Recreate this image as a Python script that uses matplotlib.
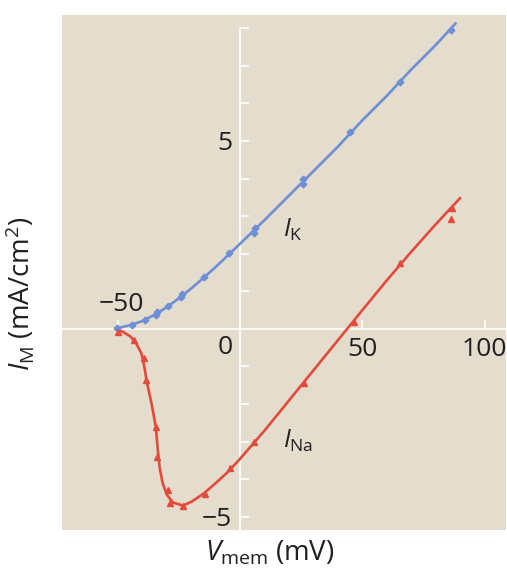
import numpy as np
import matplotlib
matplotlib.use("Agg")
import matplotlib.pyplot as plt

plt.rcParams['font.family'] = ['Open Sans', 'DejaVu Sans']
plt.rcParams['mathtext.fontset'] = 'custom'
plt.rcParams['mathtext.rm'] = 'Open Sans'
plt.rcParams['mathtext.it'] = 'Open Sans:italic'

# measured points (mV, mA/cm2)
v_k = [-50.5, -44.4, -38.9, -34.4, -34.0, -29.4, -24.3, -24.0, -14.8, -4.5, 5.7, 5.9, 25.5, 25.7, 45.1, 65.6, 86.1]
i_k = [0.03, 0.11, 0.24, 0.36, 0.44, 0.61, 0.84, 0.93, 1.39, 2.01, 2.56, 2.68, 3.86, 3.98, 5.25, 6.58, 7.95]

v_na = [-49.9, -43.7, -39.6, -38.5, -34.4, -33.9, -29.8, -28.7, -23.6, -14.3, -4.1, 5.7, 25.9, 46.4, 65.6, 86.8, 86.1]
i_na = [-0.07, -0.29, -0.78, -1.36, -2.60, -3.40, -4.28, -4.64, -4.71, -4.39, -3.71, -3.00, -1.43, 0.19, 1.75, 3.21, 2.92]

# fitted curves
fit_v_k = [-51.5, -45, -40, -35, -30, -25, -20, -15, -10, -5, 0, 10, 20, 30, 40, 50, 60, 70, 80, 88.5]
fit_i_k = [0.0, 0.10, 0.21, 0.38, 0.58, 0.82, 1.08, 1.36, 1.65, 1.96, 2.27, 2.90, 3.55, 4.20, 4.85, 5.55, 6.20, 6.90, 7.55, 8.15]

fit_v_na = [-51.2, -48, -45, -42.5, -40.5, -39.3, -38.3, -36.3, -34.6, -33.8, -33.0, -31.8, -30, -27.5,
            -23.5, -20, -15, -10, -5, 0, 10, 20, 30, 40, 50, 60, 70, 80, 90.3]
fit_i_na = [0.0, -0.08, -0.20, -0.40, -0.65, -1.0, -1.4, -2.0, -2.6, -3.2, -3.7, -4.1, -4.42, -4.62,
            -4.70, -4.60, -4.38, -4.10, -3.80, -3.45, -2.70, -1.90, -1.10, -0.30, 0.50, 1.29, 2.05, 2.78, 3.50]

x_ticks = [-50, 50, 100]
x_ticklabels = ['', '50', '100']
y_ticks = [-5, -4, -3, -2, -1, 1, 2, 3, 4, 5, 6, 7, 8]
y_ticklabels = ['\u22125', '', '', '', '', '', '', '', '', '5', '', '', '']

blue = '#6d8fd6'
red = '#e24a3b'
beige = '#e4dccd'
ink = '#231f20'

fig = plt.figure(figsize=(5.07, 5.70), dpi=100)
ax = fig.add_axes([62/507, 40/570, 444/507, 515/570])
ax.set_facecolor(beige)

ax.plot(fit_v_k, fit_i_k, color=blue, lw=1.9, solid_capstyle='butt', zorder=3)
ax.plot(v_k, i_k, 'D', color=blue, ms=3.4, zorder=4)
ax.plot(fit_v_na, fit_i_na, color=red, lw=1.9, solid_capstyle='butt', zorder=3)
ax.plot(v_na, i_na, '^', color=red, ms=4.3, zorder=4)

ax.set_xlim(-73, 108.8)
ax.set_ylim(-5.35, 8.35)

for s in ['top', 'right']:
    ax.spines[s].set_visible(False)
ax.spines['left'].set_position(('data', 0))
ax.spines['bottom'].set_position(('data', 0))
ax.spines['left'].set_bounds(-5.35, 8)
for s in ['left', 'bottom']:
    ax.spines[s].set_color('white')
    ax.spines[s].set_linewidth(1.2)
    ax.spines[s].set_zorder(2)

ax.set_xticks(x_ticks)
ax.set_xticklabels(x_ticklabels)
ax.set_yticks(y_ticks)
ax.set_yticklabels(y_ticklabels)
ax.tick_params(axis='both', direction='in', length=6.5, width=1.2, color='white',
               labelsize=19, labelcolor=ink, pad=6)

ax.text(-48.8, 0.66, '\u221250', ha='center', va='center', fontsize=19, color=ink)
ax.text(-3.2, -0.49, '0', ha='right', va='center', fontsize=19, color=ink)

ax.text(17.5, 2.62, r'$I_{\mathrm{K}}$', fontsize=18, color=ink, ha='left', va='center')
ax.text(17.5, -2.98, r'$I_{\mathrm{Na}}$', fontsize=18, color=ink, ha='left', va='center')

fig.text(270/507, 1 - 553/570, r'$V_{\mathrm{mem}}$ (mV)', ha='center', va='center', fontsize=20, color=ink)
fig.text(20/507, 1 - 294/570, r'$I_{\mathrm{M}}$ (mA/cm$^2$)', ha='center', va='center', rotation=90,
         fontsize=20, color=ink)

fig.savefig('out.png', dpi=100, facecolor='white')
